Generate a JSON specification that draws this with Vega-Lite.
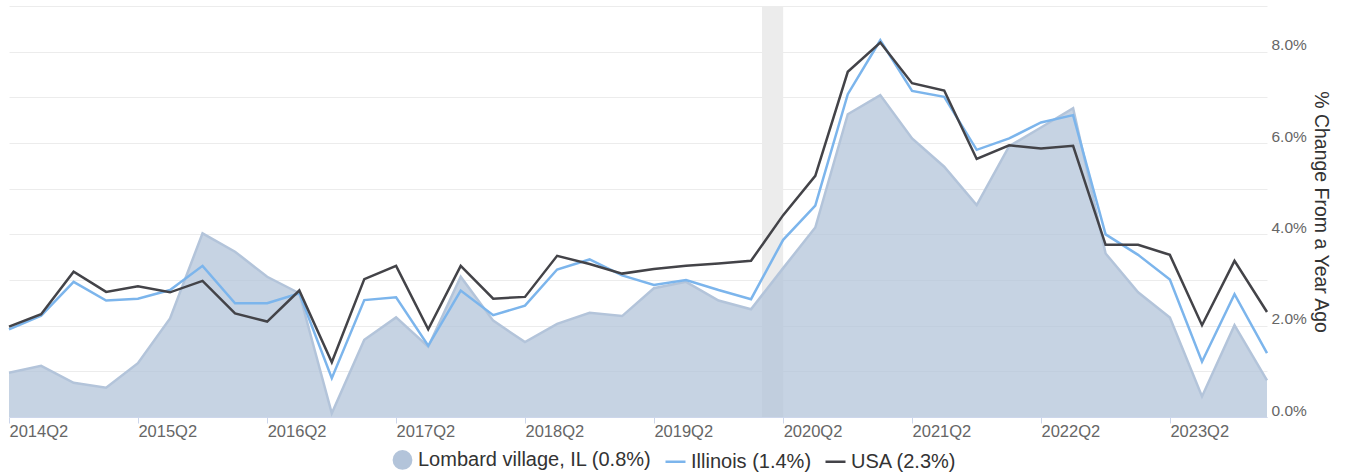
{
  "$schema": "https://vega.github.io/schema/vega-lite/v6.json",
  "width": 1258,
  "height": 411,
  "autosize": {"type": "none"},
  "padding": {"left": 9, "top": 6, "right": 82, "bottom": 58},
  "background": "white",
  "config": {"view": {"stroke": null}, "font": "Liberation Sans"},
  "datasets": {
    "recession": [{"start": "2020-02-01", "end": "2020-04-01"}],
    "series": [
      {"date": "2014-04-01", "series": "Lombard village, IL (0.8%)", "value": 0.97},
      {"date": "2014-07-01", "series": "Lombard village, IL (0.8%)", "value": 1.12},
      {"date": "2014-10-01", "series": "Lombard village, IL (0.8%)", "value": 0.75},
      {"date": "2015-01-01", "series": "Lombard village, IL (0.8%)", "value": 0.64},
      {"date": "2015-04-01", "series": "Lombard village, IL (0.8%)", "value": 1.18},
      {"date": "2015-07-01", "series": "Lombard village, IL (0.8%)", "value": 2.16},
      {"date": "2015-10-01", "series": "Lombard village, IL (0.8%)", "value": 4.02},
      {"date": "2016-01-01", "series": "Lombard village, IL (0.8%)", "value": 3.62},
      {"date": "2016-04-01", "series": "Lombard village, IL (0.8%)", "value": 3.07},
      {"date": "2016-07-01", "series": "Lombard village, IL (0.8%)", "value": 2.71},
      {"date": "2016-10-01", "series": "Lombard village, IL (0.8%)", "value": 0.08},
      {"date": "2017-01-01", "series": "Lombard village, IL (0.8%)", "value": 1.69},
      {"date": "2017-04-01", "series": "Lombard village, IL (0.8%)", "value": 2.18},
      {"date": "2017-07-01", "series": "Lombard village, IL (0.8%)", "value": 1.54},
      {"date": "2017-10-01", "series": "Lombard village, IL (0.8%)", "value": 3.07},
      {"date": "2018-01-01", "series": "Lombard village, IL (0.8%)", "value": 2.11},
      {"date": "2018-04-01", "series": "Lombard village, IL (0.8%)", "value": 1.64},
      {"date": "2018-07-01", "series": "Lombard village, IL (0.8%)", "value": 2.04},
      {"date": "2018-10-01", "series": "Lombard village, IL (0.8%)", "value": 2.28},
      {"date": "2019-01-01", "series": "Lombard village, IL (0.8%)", "value": 2.21},
      {"date": "2019-04-01", "series": "Lombard village, IL (0.8%)", "value": 2.82},
      {"date": "2019-07-01", "series": "Lombard village, IL (0.8%)", "value": 2.96},
      {"date": "2019-10-01", "series": "Lombard village, IL (0.8%)", "value": 2.55},
      {"date": "2020-01-01", "series": "Lombard village, IL (0.8%)", "value": 2.36},
      {"date": "2020-04-01", "series": "Lombard village, IL (0.8%)", "value": 3.26},
      {"date": "2020-07-01", "series": "Lombard village, IL (0.8%)", "value": 4.15},
      {"date": "2020-10-01", "series": "Lombard village, IL (0.8%)", "value": 6.63},
      {"date": "2021-01-01", "series": "Lombard village, IL (0.8%)", "value": 7.05},
      {"date": "2021-04-01", "series": "Lombard village, IL (0.8%)", "value": 6.10},
      {"date": "2021-07-01", "series": "Lombard village, IL (0.8%)", "value": 5.48},
      {"date": "2021-10-01", "series": "Lombard village, IL (0.8%)", "value": 4.64},
      {"date": "2022-01-01", "series": "Lombard village, IL (0.8%)", "value": 5.93},
      {"date": "2022-04-01", "series": "Lombard village, IL (0.8%)", "value": 6.34},
      {"date": "2022-07-01", "series": "Lombard village, IL (0.8%)", "value": 6.76},
      {"date": "2022-10-01", "series": "Lombard village, IL (0.8%)", "value": 3.58},
      {"date": "2023-01-01", "series": "Lombard village, IL (0.8%)", "value": 2.73},
      {"date": "2023-04-01", "series": "Lombard village, IL (0.8%)", "value": 2.18},
      {"date": "2023-07-01", "series": "Lombard village, IL (0.8%)", "value": 0.45},
      {"date": "2023-10-01", "series": "Lombard village, IL (0.8%)", "value": 2.01},
      {"date": "2024-01-01", "series": "Lombard village, IL (0.8%)", "value": 0.80},
      {"date": "2014-04-01", "series": "Illinois (1.4%)", "value": 1.92},
      {"date": "2014-07-01", "series": "Illinois (1.4%)", "value": 2.22},
      {"date": "2014-10-01", "series": "Illinois (1.4%)", "value": 2.96},
      {"date": "2015-01-01", "series": "Illinois (1.4%)", "value": 2.55},
      {"date": "2015-04-01", "series": "Illinois (1.4%)", "value": 2.59},
      {"date": "2015-07-01", "series": "Illinois (1.4%)", "value": 2.78},
      {"date": "2015-10-01", "series": "Illinois (1.4%)", "value": 3.31},
      {"date": "2016-01-01", "series": "Illinois (1.4%)", "value": 2.49},
      {"date": "2016-04-01", "series": "Illinois (1.4%)", "value": 2.49},
      {"date": "2016-07-01", "series": "Illinois (1.4%)", "value": 2.71},
      {"date": "2016-10-01", "series": "Illinois (1.4%)", "value": 0.85},
      {"date": "2017-01-01", "series": "Illinois (1.4%)", "value": 2.56},
      {"date": "2017-04-01", "series": "Illinois (1.4%)", "value": 2.62},
      {"date": "2017-07-01", "series": "Illinois (1.4%)", "value": 1.56},
      {"date": "2017-10-01", "series": "Illinois (1.4%)", "value": 2.77},
      {"date": "2018-01-01", "series": "Illinois (1.4%)", "value": 2.23},
      {"date": "2018-04-01", "series": "Illinois (1.4%)", "value": 2.44},
      {"date": "2018-07-01", "series": "Illinois (1.4%)", "value": 3.23},
      {"date": "2018-10-01", "series": "Illinois (1.4%)", "value": 3.45},
      {"date": "2019-01-01", "series": "Illinois (1.4%)", "value": 3.10},
      {"date": "2019-04-01", "series": "Illinois (1.4%)", "value": 2.89},
      {"date": "2019-07-01", "series": "Illinois (1.4%)", "value": 3.00},
      {"date": "2019-10-01", "series": "Illinois (1.4%)", "value": 2.78},
      {"date": "2020-01-01", "series": "Illinois (1.4%)", "value": 2.58},
      {"date": "2020-04-01", "series": "Illinois (1.4%)", "value": 3.88},
      {"date": "2020-07-01", "series": "Illinois (1.4%)", "value": 4.63},
      {"date": "2020-10-01", "series": "Illinois (1.4%)", "value": 7.07},
      {"date": "2021-01-01", "series": "Illinois (1.4%)", "value": 8.25},
      {"date": "2021-04-01", "series": "Illinois (1.4%)", "value": 7.14},
      {"date": "2021-07-01", "series": "Illinois (1.4%)", "value": 7.01},
      {"date": "2021-10-01", "series": "Illinois (1.4%)", "value": 5.85},
      {"date": "2022-01-01", "series": "Illinois (1.4%)", "value": 6.10},
      {"date": "2022-04-01", "series": "Illinois (1.4%)", "value": 6.45},
      {"date": "2022-07-01", "series": "Illinois (1.4%)", "value": 6.61},
      {"date": "2022-10-01", "series": "Illinois (1.4%)", "value": 4.00},
      {"date": "2023-01-01", "series": "Illinois (1.4%)", "value": 3.55},
      {"date": "2023-04-01", "series": "Illinois (1.4%)", "value": 3.01},
      {"date": "2023-07-01", "series": "Illinois (1.4%)", "value": 1.21},
      {"date": "2023-10-01", "series": "Illinois (1.4%)", "value": 2.69},
      {"date": "2024-01-01", "series": "Illinois (1.4%)", "value": 1.40},
      {"date": "2014-04-01", "series": "USA (2.3%)", "value": 1.98},
      {"date": "2014-07-01", "series": "USA (2.3%)", "value": 2.25},
      {"date": "2014-10-01", "series": "USA (2.3%)", "value": 3.18},
      {"date": "2015-01-01", "series": "USA (2.3%)", "value": 2.74},
      {"date": "2015-04-01", "series": "USA (2.3%)", "value": 2.86},
      {"date": "2015-07-01", "series": "USA (2.3%)", "value": 2.73},
      {"date": "2015-10-01", "series": "USA (2.3%)", "value": 2.98},
      {"date": "2016-01-01", "series": "USA (2.3%)", "value": 2.27},
      {"date": "2016-04-01", "series": "USA (2.3%)", "value": 2.09},
      {"date": "2016-07-01", "series": "USA (2.3%)", "value": 2.77},
      {"date": "2016-10-01", "series": "USA (2.3%)", "value": 1.20},
      {"date": "2017-01-01", "series": "USA (2.3%)", "value": 3.02},
      {"date": "2017-04-01", "series": "USA (2.3%)", "value": 3.31},
      {"date": "2017-07-01", "series": "USA (2.3%)", "value": 1.92},
      {"date": "2017-10-01", "series": "USA (2.3%)", "value": 3.31},
      {"date": "2018-01-01", "series": "USA (2.3%)", "value": 2.59},
      {"date": "2018-04-01", "series": "USA (2.3%)", "value": 2.63},
      {"date": "2018-07-01", "series": "USA (2.3%)", "value": 3.53},
      {"date": "2018-10-01", "series": "USA (2.3%)", "value": 3.35},
      {"date": "2019-01-01", "series": "USA (2.3%)", "value": 3.14},
      {"date": "2019-04-01", "series": "USA (2.3%)", "value": 3.24},
      {"date": "2019-07-01", "series": "USA (2.3%)", "value": 3.31},
      {"date": "2019-10-01", "series": "USA (2.3%)", "value": 3.36},
      {"date": "2020-01-01", "series": "USA (2.3%)", "value": 3.42},
      {"date": "2020-04-01", "series": "USA (2.3%)", "value": 4.42},
      {"date": "2020-07-01", "series": "USA (2.3%)", "value": 5.28},
      {"date": "2020-10-01", "series": "USA (2.3%)", "value": 7.56},
      {"date": "2021-01-01", "series": "USA (2.3%)", "value": 8.20},
      {"date": "2021-04-01", "series": "USA (2.3%)", "value": 7.31},
      {"date": "2021-07-01", "series": "USA (2.3%)", "value": 7.15},
      {"date": "2021-10-01", "series": "USA (2.3%)", "value": 5.65},
      {"date": "2022-01-01", "series": "USA (2.3%)", "value": 5.95},
      {"date": "2022-04-01", "series": "USA (2.3%)", "value": 5.88},
      {"date": "2022-07-01", "series": "USA (2.3%)", "value": 5.94},
      {"date": "2022-10-01", "series": "USA (2.3%)", "value": 3.77},
      {"date": "2023-01-01", "series": "USA (2.3%)", "value": 3.77},
      {"date": "2023-04-01", "series": "USA (2.3%)", "value": 3.55},
      {"date": "2023-07-01", "series": "USA (2.3%)", "value": 2.01},
      {"date": "2023-10-01", "series": "USA (2.3%)", "value": 3.42},
      {"date": "2024-01-01", "series": "USA (2.3%)", "value": 2.30}
    ]
  },
  "layer": [
    {
      "data": {"name": "recession"},
      "mark": {"type": "rect", "color": "#ececec"},
      "encoding": {
        "x": {
          "field": "start",
          "type": "temporal",
          "title": null,
          "scale": {
            "type": "utc",
            "nice": false,
            "domain": [
              {"year": 2014, "month": "apr", "date": 1, "utc": true},
              {"year": 2024, "month": "jan", "date": 1, "utc": true}
            ]
          },
          "axis": {
            "values": [
              {"year": 2014, "month": "apr", "date": 1, "utc": true},
              {"year": 2015, "month": "apr", "date": 1, "utc": true},
              {"year": 2016, "month": "apr", "date": 1, "utc": true},
              {"year": 2017, "month": "apr", "date": 1, "utc": true},
              {"year": 2018, "month": "apr", "date": 1, "utc": true},
              {"year": 2019, "month": "apr", "date": 1, "utc": true},
              {"year": 2020, "month": "apr", "date": 1, "utc": true},
              {"year": 2021, "month": "apr", "date": 1, "utc": true},
              {"year": 2022, "month": "apr", "date": 1, "utc": true},
              {"year": 2023, "month": "apr", "date": 1, "utc": true}
            ],
            "labelExpr": "utcFormat(datum.value, '%Y') + 'Q2'",
            "grid": false,
            "domain": true,
            "domainColor": "#ccd6eb",
            "ticks": true,
            "tickColor": "#ccd6eb",
            "tickSize": 6,
            "labelAlign": "left",
            "labelBaseline": "top",
            "labelPadding": 0,
            "labelFontSize": 16.5,
            "labelColor": "#666666",
            "labelFont": "Liberation Sans",
            "labelFlush": false,
            "labelOverlap": false
          }
        },
        "x2": {"field": "end"}
      }
    },
    {
      "data": {"name": "series"},
      "transform": [{"filter": "datum.series === 'Lombard village, IL (0.8%)'"}],
      "mark": {"type": "area", "fillOpacity": 0.75, "line": {"color": "#b3c4da", "strokeWidth": 2.5}},
      "encoding": {
        "x": {"field": "date", "type": "temporal"},
        "y": {
          "field": "value",
          "type": "quantitative",
          "title": "% Change From a Year Ago",
          "scale": {"domain": [0, 9], "nice": false, "zero": true},
          "axis": {
            "orient": "right",
            "values": [0, 1, 2, 3, 4, 5, 6, 7, 8, 9],
            "labelExpr": "(datum.value % 2 === 0 && datum.value < 9) ? format(datum.value, '.1f') + '%' : ''",
            "grid": true,
            "gridColor": "#ececec",
            "gridWidth": 1,
            "domain": false,
            "ticks": false,
            "labelPadding": 4,
            "labelAlign": "left",
            "labelBaseline": "alphabetic",
            "labelOffset": -2,
            "labelFontSize": 15.5,
            "labelColor": "#666666",
            "labelFont": "Liberation Sans",
            "labelFlush": false,
            "labelOverlap": false,
            "titleFont": "Liberation Sans",
            "titleFontSize": 19.5,
            "titleFontWeight": "normal",
            "titleColor": "#333333",
            "titleAngle": 90,
            "titlePadding": 4
          }
        },
        "color": {
          "field": "series",
          "type": "nominal",
          "scale": {
            "domain": ["Lombard village, IL (0.8%)", "Illinois (1.4%)", "USA (2.3%)"],
            "range": ["#b3c4da", "#7cb5ec", "#434348"]
          },
          "legend": {
            "title": null,
            "orient": "none",
            "direction": "horizontal",
            "legendX": 382,
            "legendY": 442,
            "labelFont": "Liberation Sans",
            "labelFontSize": 20,
            "labelColor": "#333333",
            "labelOffset": 4,
            "columnPadding": 8,
            "symbolSize": 400,
            "labelLimit": 400,
            "encode": {
              "symbols": {
                "update": {
                  "shape": {"signal": "datum.value === 'Lombard village, IL (0.8%)' ? 'circle' : 'stroke'"},
                  "size": {"signal": "datum.value === 'Lombard village, IL (0.8%)' ? 300 : 400"},
                  "fill": {"signal": "datum.value === 'Lombard village, IL (0.8%)' ? '#b3c4da' : 'transparent'"},
                  "stroke": {"signal": "datum.value === 'Lombard village, IL (0.8%)' ? 'transparent' : (datum.value === 'Illinois (1.4%)' ? '#7cb5ec' : '#434348')"},
                  "strokeWidth": {"value": 2.5},
                  "opacity": {"value": 1},
                  "fillOpacity": {"value": 1}
                }
              }
            }
          }
        }
      }
    },
    {
      "data": {"name": "series"},
      "transform": [{"filter": "datum.series !== 'Lombard village, IL (0.8%)'"}],
      "mark": {"type": "line", "strokeWidth": 2.5},
      "encoding": {
        "x": {"field": "date", "type": "temporal"},
        "y": {"field": "value", "type": "quantitative"},
        "color": {"field": "series", "type": "nominal"},
        "order": {"field": "date"}
      }
    }
  ]
}
